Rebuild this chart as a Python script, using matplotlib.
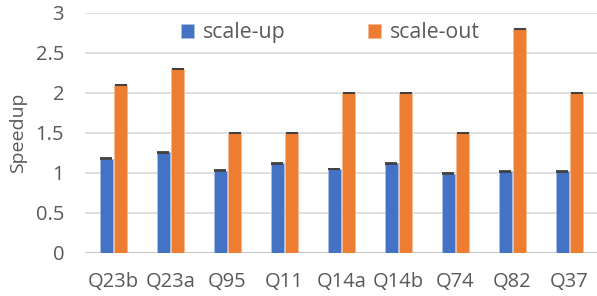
import matplotlib
matplotlib.use("Agg")
import matplotlib.pyplot as plt
import numpy as np

categories = ["Q23b", "Q23a", "Q95", "Q11", "Q14a", "Q14b", "Q74", "Q82", "Q37"]
scale_up = [1.18, 1.26, 1.03, 1.12, 1.05, 1.12, 0.99, 1.02, 1.02]
scale_out = [2.10, 2.30, 1.50, 1.50, 2.00, 2.00, 1.50, 2.80, 2.00]
err_up = [0.004] * 9
err_out = [0.004] * 9
yticks = [0, 0.5, 1, 1.5, 2, 2.5, 3]
ytick_labels = ["0", "0.5", "1", "1.5", "2", "2.5", "3"]

plt.rcParams['font.family'] = ['Open Sans', 'DejaVu Sans']
text_color = "#595959"

fig = plt.figure(figsize=(5.97, 2.96), dpi=100)
ax = fig.add_axes([85/597, 1 - 253/296, 513/597, 240/296])

x = np.arange(len(categories))
w = 0.225
gap = 0.03
ax.bar(x - w/2 - gap/2, scale_up, w, color="#4472C4", edgecolor="#A9BEE3", linewidth=0.6,
       label="scale-up", zorder=3)
ax.bar(x + w/2 + gap/2, scale_out, w, color="#ED7D31", edgecolor="#F5B994", linewidth=0.6,
       label="scale-out", zorder=3)
ax.errorbar(x - w/2 - gap/2, scale_up, yerr=err_up, fmt="none", ecolor="#404040",
            elinewidth=0.8, capsize=4.2, capthick=1.3, zorder=4)
ax.errorbar(x + w/2 + gap/2, scale_out, yerr=err_out, fmt="none", ecolor="#404040",
            elinewidth=0.8, capsize=4.2, capthick=1.3, zorder=4)

ax.set_xlim(-0.5, len(categories) - 0.5)
ax.set_ylim(0, 3)
ax.set_yticks(yticks)
ax.set_yticklabels(ytick_labels)
ax.set_xticks(x)
ax.set_xticklabels(categories)
ax.tick_params(axis="both", length=0, labelsize=14.5, colors=text_color)
ax.tick_params(axis="y", pad=15)
ax.tick_params(axis="x", pad=14)
for s in ax.spines.values():
    s.set_visible(False)
ax.yaxis.grid(True, color="#D9D9D9", linewidth=1.2, zorder=0)
ax.set_axisbelow(True)
ax.axhline(0, color="#BFBFBF", linewidth=1.2, zorder=2)

ax.set_ylabel("Speedup", fontsize=14, color=text_color, labelpad=6)

leg = ax.legend(loc="center", bbox_to_anchor=(0.478, 0.917), ncol=2, frameon=False,
                fontsize=15.3, handlelength=0.63, handleheight=0.63, handletextpad=0.38,
                columnspacing=3.9, borderpad=0, borderaxespad=0)
for t in leg.get_texts():
    t.set_color(text_color)

fig.savefig("out.png", dpi=100)
